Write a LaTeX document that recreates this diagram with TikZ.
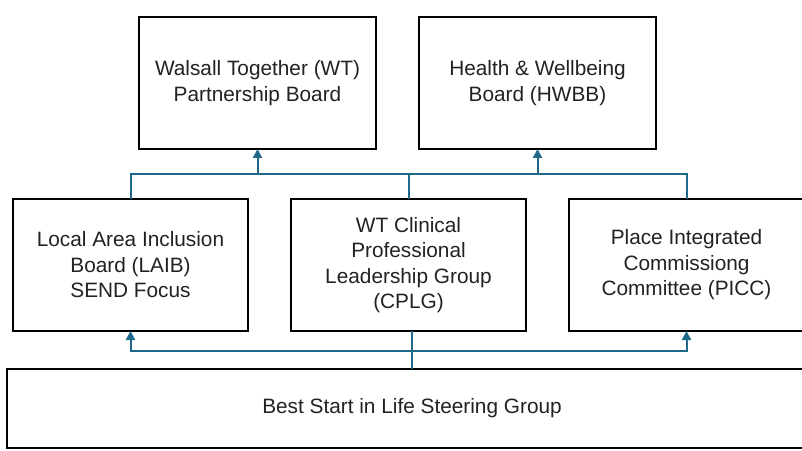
\documentclass[tikz,border=0pt]{standalone}
\usepackage{fontspec}
\setmainfont{Liberation Sans}
\usetikzlibrary{arrows.meta}
\definecolor{linkblue}{RGB}{31,104,138}
\definecolor{boxtext}{RGB}{34,34,34}

\begin{document}
\begin{tikzpicture}[x=1pt,y=1pt,
    board/.style={draw=black,line width=2pt,fill=white,inner sep=0pt,outer sep=0pt,
      minimum width=235pt,minimum height=132pt,align=center,text=boxtext,
      font=\fontsize{20.8}{25.5}\selectfont},
    link/.style={draw=linkblue,line width=2pt},
    tip/.style={-{Triangle[length=9pt,width=9pt]}},
    bothtips/.style={{Triangle[length=9pt,width=9pt]}-{Triangle[length=9pt,width=9pt]}}]%
    \useasboundingbox (0,0) rectangle (802,450);%
    \node[board,minimum width=237pt] (wt) at (257.5,367) {Walsall Together (WT)\\Partnership Board};%
    \node[board,minimum width=237pt] (hwbb) at (537.5,367) {Health \& Wellbeing\\Board (HWBB)};%
    \node[board] (laib) at (130.5,185) {Local Area Inclusion\\Board (LAIB)\\SEND Focus};%
    \node[board] (cplg) at (408.5,185) {WT Clinical\\Professional\\Leadership Group\\(CPLG)};%
    \node[board] (picc) at (686.5,185) {Place Integrated\\Commissiong\\Committee (PICC)};%
    \node[board,minimum width=810pt,minimum height=79pt] (bsil) at (412,41.5) {Best Start in Life Steering Group};%
    \coordinate (upbus) at (0,276);%
    \coordinate (lowbus) at (0,99);%
    \draw[link] (laib.north) |- (upbus -| picc.north) -- (picc.north);%
    \draw[link] (cplg.north) -- (cplg.north |- upbus);%
    \draw[link,tip] (wt.south |- upbus) -- (wt.south);%
    \draw[link,tip] (hwbb.south |- upbus) -- (hwbb.south);%
    \draw[link,bothtips] (laib.south) |- (lowbus -| picc.south) -- (picc.south);%
    \draw[link] (bsil.north) -- (bsil.north |- cplg.south);%
  \end{tikzpicture}
\end{document}
